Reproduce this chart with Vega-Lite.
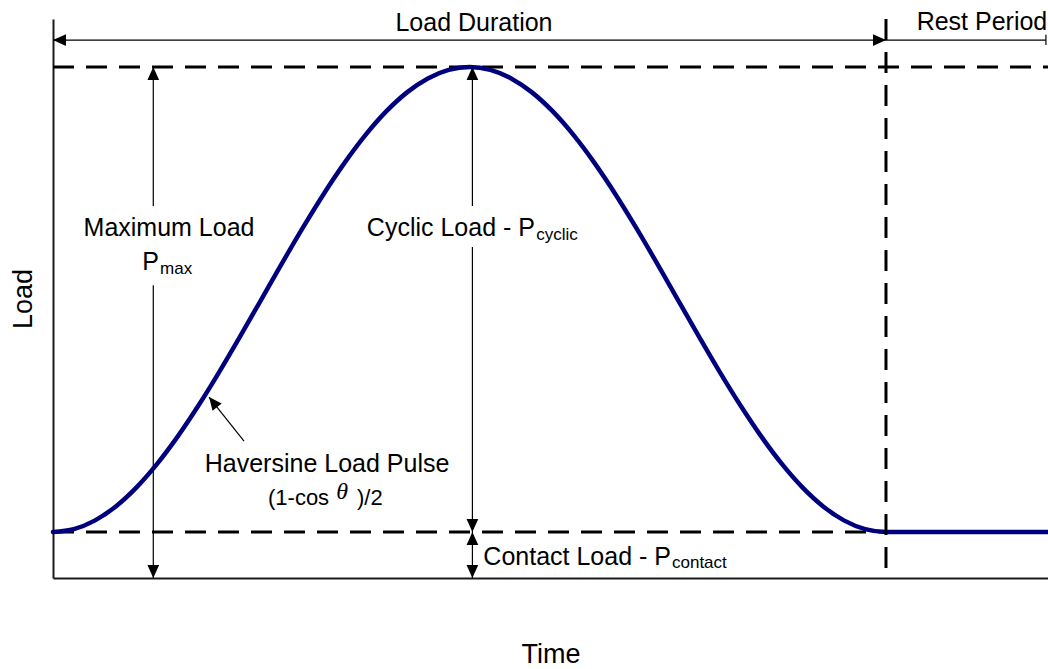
{
  "$schema": "https://vega.github.io/schema/vega-lite/v6.json",
  "width": 995,
  "height": 559,
  "autosize": {"type": "none"},
  "padding": {"left": 53, "top": 19, "right": 0, "bottom": 91},
  "background": "white",
  "config": {
    "view": {"stroke": null},
    "font": "Liberation Sans"
  },
  "datasets": {
    "curve": [
      {"x": 0, "y": 9}, {"x": 2.5, "y": 9.56}, {"x": 5, "y": 11.23}, {"x": 7.5, "y": 13.96},
      {"x": 10, "y": 17.69}, {"x": 12.5, "y": 22.33}, {"x": 15, "y": 27.76}, {"x": 17.5, "y": 33.84},
      {"x": 20, "y": 40.44}, {"x": 22.5, "y": 47.38}, {"x": 25, "y": 54.5}, {"x": 27.5, "y": 61.62},
      {"x": 30, "y": 68.56}, {"x": 32.5, "y": 75.16}, {"x": 35, "y": 81.24}, {"x": 37.5, "y": 86.67},
      {"x": 40, "y": 91.31}, {"x": 42.5, "y": 95.04}, {"x": 45, "y": 97.77}, {"x": 47.5, "y": 99.44},
      {"x": 50, "y": 100}, {"x": 52.5, "y": 99.44}, {"x": 55, "y": 97.77}, {"x": 57.5, "y": 95.04},
      {"x": 60, "y": 91.31}, {"x": 62.5, "y": 86.67}, {"x": 65, "y": 81.24}, {"x": 67.5, "y": 75.16},
      {"x": 70, "y": 68.56}, {"x": 72.5, "y": 61.62}, {"x": 75, "y": 54.5}, {"x": 77.5, "y": 47.38},
      {"x": 80, "y": 40.44}, {"x": 82.5, "y": 33.84}, {"x": 85, "y": 27.76}, {"x": 87.5, "y": 22.33},
      {"x": 90, "y": 17.69}, {"x": 92.5, "y": 13.96}, {"x": 95, "y": 11.23}, {"x": 97.5, "y": 9.56},
      {"x": 100, "y": 9}, {"x": 110, "y": 9}, {"x": 119.45, "y": 9}
    ],
    "dashedH": [
      {"x": 0, "y": 100, "x2": 119.45, "y2": 100},
      {"x": 0, "y": 9, "x2": 119.45, "y2": 9}
    ],
    "dashedV": [
      {"x": 100, "y": 109.4, "x2": 100, "y2": 0}
    ],
    "thin": [
      {"x": 0, "y": 105.28, "x2": 100, "y2": 105.28},
      {"x": 100, "y": 105.28, "x2": 119.2, "y2": 105.28},
      {"x": 119.2, "y": 104.3, "x2": 119.2, "y2": 106.3},
      {"x": 12.04, "y": 100, "x2": 12.04, "y2": 72.8},
      {"x": 12.04, "y": 57.3, "x2": 12.04, "y2": 0},
      {"x": 50.35, "y": 100, "x2": 50.35, "y2": 72.8},
      {"x": 50.35, "y": 64.8, "x2": 50.35, "y2": 9},
      {"x": 50.35, "y": 9, "x2": 50.35, "y2": 0},
      {"x": 22.93, "y": 26.81, "x2": 18.73, "y2": 35.42}
    ],
    "heads": [
      {"x": 0, "y": 105.28, "dir": "left"},
      {"x": 100, "y": 105.28, "dir": "right"},
      {"x": 12.04, "y": 100, "dir": "up"},
      {"x": 12.04, "y": 0, "dir": "down"},
      {"x": 50.35, "y": 100, "dir": "up"},
      {"x": 50.35, "y": 9, "dir": "down"},
      {"x": 50.35, "y": 9, "dir": "up"},
      {"x": 50.35, "y": 0, "dir": "down"}
    ],
    "pointer": [
      {"x": 18.73, "y": 35.42}
    ],
    "labelsCenter": [
      {"x": 50.54, "y": 107.05, "text": "Load Duration"},
      {"x": 111.52, "y": 107.25, "text": "Rest Period"},
      {"x": 13.93, "y": 66.93, "text": "Maximum Load"},
      {"x": 32.9, "y": 20.75, "text": "Haversine Load Pulse"}
    ],
    "labelsRight": [
      {"x": 12.73, "y": 60.18, "text": "P"},
      {"x": 57.86, "y": 66.93, "text": "Cyclic Load - P"},
      {"x": 74.19, "y": 2.54, "text": "Contact Load - P"}
    ],
    "subs": [
      {"x": 12.85, "y": 59.49, "text": "max"},
      {"x": 58.0, "y": 66.15, "text": "cyclic"},
      {"x": 74.31, "y": 1.86, "text": "contact"}
    ],
    "formula": [
      {"x": 25.81, "y": 14.29, "text": "(1-cos"},
      {"x": 36.49, "y": 14.29, "text": ")/2"}
    ],
    "theta": [
      {"x": 34.0, "y": 15.4, "text": "θ"}
    ]
  },
  "encoding": {
    "x": {
      "field": "x", "type": "quantitative",
      "scale": {"domain": [0, 119.45], "nice": false, "zero": false},
      "axis": {"title": "Time", "ticks": false, "labels": false, "grid": false,
               "domainColor": "#1a1a1a", "domainWidth": 2,
               "titleFontSize": 27, "titleFontWeight": "normal", "titleColor": "black",
               "titleFont": "Liberation Sans", "titlePadding": 63}
    },
    "y": {
      "field": "y", "type": "quantitative",
      "scale": {"domain": [0, 109.4], "nice": false, "zero": false},
      "axis": {"title": "Load", "ticks": false, "labels": false, "grid": false,
               "domainColor": "#1a1a1a", "domainWidth": 2,
               "titleFontSize": 27, "titleFontWeight": "normal", "titleColor": "black",
               "titleFont": "Liberation Sans", "titlePadding": 16}
    }
  },
  "layer": [
    {
      "data": {"name": "dashedH"},
      "mark": {"type": "rule", "color": "black", "strokeWidth": 3, "strokeDash": [21, 12]},
      "encoding": {"x2": {"field": "x2"}, "y2": {"field": "y2"}}
    },
    {
      "data": {"name": "curve"},
      "mark": {"type": "line", "color": "#00007f", "strokeWidth": 4.5, "interpolate": "monotone", "strokeCap": "round"},
      "encoding": {"order": {"field": "x", "type": "quantitative"}}
    },
    {
      "data": {"name": "dashedV"},
      "mark": {"type": "rule", "color": "black", "strokeWidth": 3, "strokeDash": [21, 12]},
      "encoding": {"x2": {"field": "x2"}, "y2": {"field": "y2"}}
    },
    {
      "data": {"name": "thin"},
      "mark": {"type": "rule", "color": "black", "strokeWidth": 1.2},
      "encoding": {"x2": {"field": "x2"}, "y2": {"field": "y2"}}
    },
    {
      "data": {"name": "heads"},
      "mark": {"type": "point", "filled": true, "color": "black", "opacity": 1, "size": 676, "strokeWidth": 0},
      "encoding": {
        "shape": {"field": "dir", "type": "nominal", "legend": null,
                  "scale": {"domain": ["up", "down", "left", "right"],
                            "range": ["M0,0L-0.45,1L0.45,1Z", "M0,0L-0.45,-1L0.45,-1Z", "M0,0L1,-0.45L1,0.45Z", "M0,0L-1,-0.45L-1,0.45Z"]}}
      }
    },
    {
      "data": {"name": "pointer"},
      "mark": {"type": "point", "filled": true, "color": "black", "opacity": 1, "size": 676, "strokeWidth": 0,
               "shape": "M0,0L-0.45,1L0.45,1Z", "angle": -38.5}
    },
    {
      "data": {"name": "labelsCenter"},
      "mark": {"type": "text", "fontSize": 25, "font": "Liberation Sans", "align": "center", "baseline": "alphabetic", "color": "black"},
      "encoding": {"text": {"field": "text"}}
    },
    {
      "data": {"name": "labelsRight"},
      "mark": {"type": "text", "fontSize": 25, "font": "Liberation Sans", "align": "right", "baseline": "alphabetic", "color": "black"},
      "encoding": {"text": {"field": "text"}}
    },
    {
      "data": {"name": "subs"},
      "mark": {"type": "text", "fontSize": 17, "font": "Liberation Sans", "align": "left", "baseline": "alphabetic", "color": "black"},
      "encoding": {"text": {"field": "text"}}
    },
    {
      "data": {"name": "formula"},
      "mark": {"type": "text", "fontSize": 22, "font": "Liberation Sans", "align": "left", "baseline": "alphabetic", "color": "black"},
      "encoding": {"text": {"field": "text"}}
    },
    {
      "data": {"name": "theta"},
      "mark": {"type": "text", "fontSize": 24, "font": "Liberation Serif", "fontStyle": "italic", "align": "left", "baseline": "alphabetic", "color": "black"},
      "encoding": {"text": {"field": "text"}}
    }
  ]
}
